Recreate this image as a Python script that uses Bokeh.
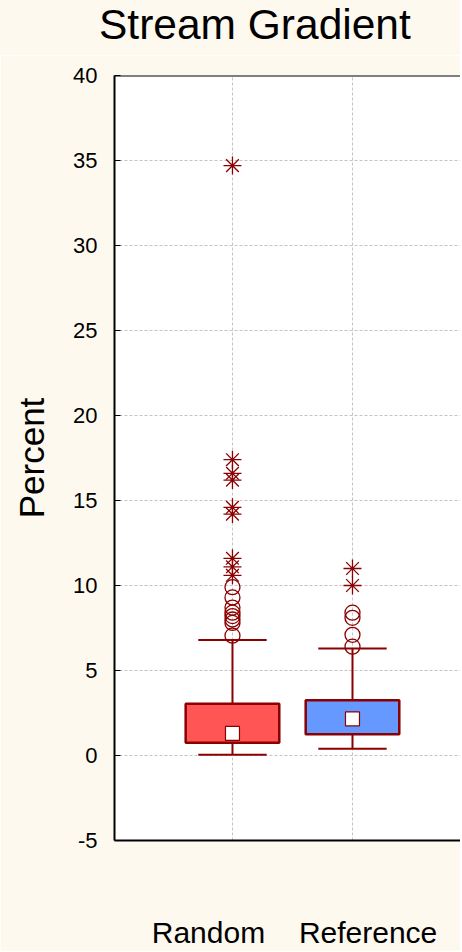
from bokeh.plotting import figure
from bokeh.models import FixedTicker, Span, Range1d, Div
from bokeh.layouts import column
from bokeh.embed import file_html
from bokeh.resources import INLINE

# ---- data ----
title_text = "Stream Gradient"
y_label = "Percent"
categories = ["Random", "Reference"]
positions = [1, 2]
q1 = [0.75, 1.25]
q3 = [3.05, 3.25]
median = [1.3, 2.15]
whisker_low = [0.05, 0.4]
whisker_high = [6.8, 6.3]
box_colors = ["#FF5555", "#6699FF"]
outliers_random = [7.05, 7.8, 8.0, 8.2, 8.4, 8.7, 9.3, 9.9]
outliers_reference = [6.4, 7.1, 8.1, 8.4]
extremes_random = [10.6, 11.1, 11.6, 14.2, 14.6, 16.2, 16.6, 17.4, 34.7]
extremes_reference = [10.0, 11.0]
y_ticks = [-5, 0, 5, 10, 15, 20, 25, 30, 35, 40]

# ---- styling ----
BG = "#FEF9EF"
DARK = "#8B0000"
FONT = "Liberation Sans"
box_w = 0.78
cap_w = 0.57
label_pos = [0.8, 2.13]
W = 460
TITLE_H = 55

title_div = Div(
    text=('<div style="font-family:\'Liberation Sans\',Arial,sans-serif;font-size:42.5px;'
          'line-height:42px;color:black;padding-left:99px;padding-top:4px;'
          'white-space:nowrap;">' + title_text + '</div>'),
    width=W, height=TITLE_H, margin=0,
    styles={"background-color": BG, "overflow": "hidden"})

p = figure(width=W, height=951 - TITLE_H, output_backend="svg", toolbar_location=None,
           x_range=Range1d(0.017, 2.9), y_range=Range1d(-5, 40),
           background_fill_color="white", border_fill_color=BG,
           min_border_left=114, min_border_right=0, min_border_top=75 - TITLE_H,
           min_border_bottom=111, margin=0)
p.outline_line_color = None

# axes
ya = p.yaxis[0]
ya.ticker = FixedTicker(ticks=y_ticks)
ya.major_label_overrides = {-5: "-5"}
ya.major_label_text_font = FONT
ya.major_label_text_font_size = "22px"
ya.major_label_text_color = "black"
ya.major_tick_in = 6
ya.major_tick_out = 0
ya.minor_tick_line_color = None
ya.major_label_standoff = 17
ya.axis_line_width = 2
ya.axis_label = y_label
ya.axis_label_text_font = FONT
ya.axis_label_text_font_size = "35px"
ya.axis_label_text_font_style = "normal"
ya.axis_label_text_color = "black"
ya.axis_label_standoff = 19

xa = p.xaxis[0]
xa.ticker = FixedTicker(ticks=label_pos)
xa.major_label_overrides = {label_pos[i]: categories[i] for i in range(len(categories))}
xa.major_label_text_font = FONT
xa.major_label_text_font_size = "30px"
xa.major_label_text_color = "black"
xa.major_tick_in = 0
xa.major_tick_out = 0
xa.minor_tick_line_color = None
xa.major_label_standoff = 75
xa.axis_line_width = 2

p.xgrid.ticker = FixedTicker(ticks=positions)
for g in (p.xgrid, p.ygrid):
    g.grid_line_color = "#C4C4C4"
    g.grid_line_dash = "3 2"
    g.grid_line_width = 1

p.add_layout(Span(location=40, dimension="width", line_color="black", line_width=2))

# whiskers
p.segment(x0=positions, y0=whisker_low, x1=positions, y1=q1, line_color=DARK, line_width=2)
p.segment(x0=positions, y0=q3, x1=positions, y1=whisker_high, line_color=DARK, line_width=2)
p.segment(x0=[x - cap_w / 2 for x in positions], y0=whisker_high,
          x1=[x + cap_w / 2 for x in positions], y1=whisker_high, line_color=DARK, line_width=2)
p.segment(x0=[x - cap_w / 2 for x in positions], y0=whisker_low,
          x1=[x + cap_w / 2 for x in positions], y1=whisker_low, line_color=DARK, line_width=2)

# boxes
p.vbar(x=positions, width=box_w, bottom=q1, top=q3, fill_color=box_colors,
       line_color=DARK, line_width=2.5)

# medians
p.scatter(x=positions, y=median, marker="square", size=14, fill_color="white",
          line_color=DARK, line_width=1.2)

# outliers
p.scatter(x=[positions[0]] * len(outliers_random), y=outliers_random, marker="circle",
          size=15, fill_color=None, line_color=DARK, line_width=1.3)
p.scatter(x=[positions[1]] * len(outliers_reference), y=outliers_reference, marker="circle",
          size=15, fill_color=None, line_color=DARK, line_width=1.3)

# extremes
p.scatter(x=[positions[0]] * len(extremes_random), y=extremes_random, marker="asterisk",
          size=18, line_color=DARK, line_width=1.3)
p.scatter(x=[positions[1]] * len(extremes_reference), y=extremes_reference, marker="asterisk",
          size=18, line_color=DARK, line_width=1.3)

layout = column(title_div, p, spacing=0, margin=0)
open("out.html", "w").write(file_html(layout, INLINE))
